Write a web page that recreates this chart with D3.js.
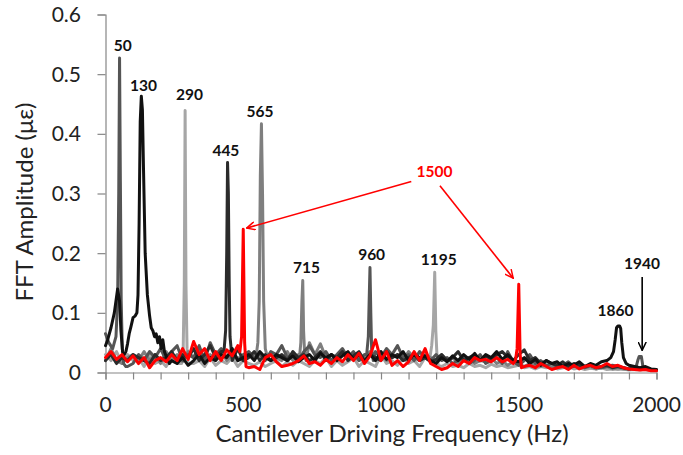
<!DOCTYPE html>
<html><head><meta charset="utf-8">
<script src="https://cdn.jsdelivr.net/npm/d3@7"></script>
<style>
html,body{margin:0;padding:0;background:#fff;}
text{font-family:"Lato","Liberation Sans",sans-serif;}
</style></head>
<body><svg id="c" width="683" height="455"></svg>
<script>
// ---------- DATA ----------
const xTicks = [0, 500, 1000, 1500, 2000];
const yTicks = [0, 0.1, 0.2, 0.3, 0.4, 0.5, 0.6];
const noiseHz = d3.range(0, 2001, 20); // common 20 Hz sampling grid for baseline noise

// light gray trace (290 Hz / 1195 Hz)
const lightNoise = [0.03,0.02,0.035,0.015,0.03,0.02,0.025,0.01,0.03,0.015,0.02,0.01,0.025,0.015,0.02,0.02,0.015,0.02,0.01,0.025,0.012,0.02,0.015,0.025,0.01,0.02,0.015,0.012,0.018,0.01,0.015,0.02,0.01,0.018,0.012,0.02,0.015,0.01,0.02,0.015,0.025,0.01,0.02,0.012,0.018,0.025,0.01,0.02,0.015,0.01,0.03,0.015,0.02,0.012,0.025,0.015,0.02,0.01,0.025,0.03,0.03,0.01,0.015,0.01,0.012,0.008,0.015,0.01,0.012,0.008,0.014,0.01,0.012,0.008,0.01,0.012,0.008,0.01,0.006,0.01,0.008,0.01,0.006,0.008,0.01,0.006,0.008,0.005,0.007,0.006,0.008,0.005,0.006,0.005,0.006,0.004,0.005,0.004,0.005,0.004,0.004];
const lightPeakHz  = [[276,282,286,289,292,296,300],[1176,1184,1190,1195,1199,1203,1208]];
const lightPeakAmp = [[0.015,0.04,0.15,0.439,0.15,0.04,0.015],[0.02,0.045,0.08,0.168,0.07,0.03,0.012]];

// medium gray trace (565 Hz / 715 Hz)
const medNoise = [0.02,0.04,0.02,0.015,0.025,0.03,0.02,0.035,0.02,0.03,0.015,0.035,0.02,0.03,0.018,0.035,0.025,0.04,0.02,0.03,0.022,0.035,0.02,0.03,0.025,0.02,0.03,0.025,0.035,0.02,0.03,0.025,0.02,0.035,0.02,0.03,0.025,0.05,0.03,0.048,0.025,0.03,0.02,0.035,0.025,0.03,0.02,0.025,0.035,0.02,0.03,0.02,0.025,0.03,0.02,0.035,0.025,0.02,0.03,0.025,0.02,0.03,0.02,0.025,0.015,0.02,0.025,0.015,0.02,0.018,0.025,0.015,0.02,0.012,0.018,0.015,0.01,0.015,0.012,0.01,0.012,0.008,0.012,0.01,0.008,0.01,0.012,0.008,0.01,0.006,0.008,0.01,0.006,0.008,0.006,0.005,0.007,0.005,0.006,0.004,0.004];
const medPeakHz  = [[546,553,558,562,566,570,574,580,588],[703,709,713,716,719,723,728]];
const medPeakAmp = [[0.025,0.05,0.12,0.33,0.417,0.3,0.12,0.04,0.025],[0.02,0.05,0.12,0.154,0.07,0.03,0.02]];

// dark gray trace (50 Hz / 960 Hz / 1940 Hz)
const darkNoise = [0.065,0.045,0.04,0.02,0.01,0.015,0.03,0.02,0.035,0.025,0.04,0.02,0.035,0.045,0.02,0.03,0.025,0.045,0.02,0.05,0.03,0.04,0.025,0.035,0.02,0.03,0.035,0.025,0.03,0.02,0.035,0.03,0.045,0.025,0.03,0.02,0.035,0.045,0.03,0.025,0.035,0.02,0.03,0.04,0.025,0.035,0.02,0.03,0.03,0.035,0.025,0.04,0.03,0.045,0.025,0.03,0.02,0.035,0.025,0.02,0.03,0.02,0.025,0.015,0.02,0.025,0.015,0.02,0.03,0.015,0.02,0.025,0.015,0.035,0.018,0.012,0.02,0.03,0.015,0.02,0.012,0.015,0.01,0.012,0.018,0.01,0.015,0.008,0.012,0.01,0.008,0.01,0.012,0.01,0.008,0.006,0.008,0.008,0.005,0.004,0.004];
const darkPeakHz  = [[0,12,26,38,44,48,51,54,57,61,66,74],[948,954,957,960,963,966,972],[1924,1932,1937,1945,1950,1956]];
const darkPeakAmp = [[0.065,0.05,0.04,0.06,0.12,0.3,0.527,0.32,0.12,0.04,0.015,0.01],[0.03,0.06,0.12,0.176,0.1,0.04,0.02],[0.006,0.02,0.027,0.027,0.012,0.005]];

// near-black trace (445 Hz)
const nearBlackNoise = [0.02,0.03,0.015,0.025,0.02,0.03,0.025,0.02,0.015,0.03,0.02,0.025,0.035,0.02,0.03,0.025,0.04,0.02,0.03,0.045,0.025,0.035,0.03,0.02,0.04,0.02,0.025,0.035,0.02,0.03,0.02,0.025,0.03,0.02,0.035,0.025,0.03,0.02,0.025,0.035,0.02,0.03,0.025,0.035,0.02,0.028,0.035,0.02,0.03,0.025,0.02,0.035,0.025,0.03,0.02,0.025,0.03,0.02,0.025,0.018,0.022,0.03,0.02,0.025,0.035,0.02,0.025,0.03,0.02,0.028,0.022,0.03,0.035,0.025,0.02,0.03,0.038,0.02,0.025,0.015,0.02,0.015,0.012,0.018,0.01,0.015,0.012,0.01,0.012,0.008,0.01,0.012,0.008,0.01,0.008,0.006,0.008,0.006,0.005,0.005,0.004];
const nearBlackPeakHz  = [[430,436,440,443,446,449,452,458]];
const nearBlackPeakAmp = [[0.035,0.07,0.2,0.352,0.3,0.15,0.06,0.03]];

// black trace (130 Hz / 1860 Hz)
const blackNoise = [0.05,0.07,0.1,0.05,0.05,0.09,0.1,0.13,0.15,0.07,0.06,0.04,0.02,0.015,0.025,0.012,0.02,0.03,0.015,0.025,0.02,0.03,0.025,0.04,0.02,0.025,0.03,0.02,0.035,0.025,0.02,0.03,0.025,0.02,0.028,0.018,0.025,0.03,0.02,0.032,0.025,0.03,0.02,0.028,0.035,0.022,0.03,0.018,0.03,0.02,0.035,0.022,0.03,0.025,0.035,0.02,0.03,0.025,0.028,0.02,0.015,0.025,0.018,0.028,0.02,0.03,0.022,0.032,0.02,0.03,0.025,0.035,0.022,0.03,0.02,0.018,0.025,0.015,0.022,0.012,0.02,0.015,0.018,0.01,0.015,0.012,0.018,0.01,0.015,0.012,0.018,0.02,0.025,0.03,0.03,0.012,0.01,0.008,0.01,0.006,0.005];
const blackPeakHz  = [[0,8,20,32,44,51,56,62,68,74,80,86,92,100,108,114,118,122,126,130,134,138,144,152,160,166,172,178,184,190,196,202,208,214,222,232],[1834,1844,1850,1855,1860,1866,1870,1874,1880,1890]];
const blackPeakAmp = [[0.045,0.055,0.075,0.1,0.14,0.12,0.07,0.035,0.03,0.035,0.048,0.065,0.076,0.092,0.095,0.1,0.13,0.25,0.42,0.463,0.44,0.34,0.2,0.13,0.095,0.075,0.07,0.06,0.065,0.05,0.06,0.04,0.055,0.035,0.025,0.015],[0.025,0.035,0.055,0.075,0.078,0.078,0.074,0.05,0.025,0.015]];

// red trace (500 Hz / 1500 Hz)
const redNoise = [0.025,0.035,0.022,0.03,0.018,0.028,0.015,0.025,0.008,0.02,0.025,0.018,0.03,0.02,0.04,0.022,0.052,0.03,0.04,0.02,0.035,0.02,0.038,0.028,0.045,0.03,0.008,0.01,0.005,0.025,0.03,0.018,0.01,0.012,0.015,0.02,0.028,0.015,0.018,0.012,0.022,0.015,0.025,0.018,0.03,0.02,0.032,0.015,0.028,0.055,0.02,0.035,0.012,0.02,0.01,0.018,0.035,0.02,0.04,0.015,0.01,0.005,0.008,0.015,0.01,0.02,0.015,0.025,0.02,0.022,0.018,0.025,0.018,0.022,0.015,0.02,0.01,0.012,0.008,0.015,0.01,0.005,0.008,0.01,0.005,0.012,0.006,0.01,0.012,0.008,0.01,0.015,0.01,0.012,0.008,0.006,0.005,0.004,0.005,0.003,0.003];
const redPeakHz  = [[488,494,500,505,510],[1488,1494,1500,1505,1510]];
const redPeakAmp = [[0.035,0.06,0.24,0.05,0.01],[0.02,0.04,0.148,0.03,0.008]];

const traceNames  = ["light", "medium", "dark", "nearBlack", "black", "red"];
const traceColors = ["#a6a6a6", "#7f7f7f", "#555555", "#2b2b2b", "#111111", "#ff0000"];

// peak annotations: [text, hz, amp (baseline)]
const peakLabels = [
  ["50", 63, 0.539], ["130", 138, 0.471], ["290", 305, 0.456], ["445", 437, 0.363],
  ["565", 561, 0.429], ["715", 730, 0.167], ["960", 966, 0.188], ["1195", 1210, 0.180],
  ["1500", 1194, 0.327], ["1860", 1851, 0.095], ["1940", 1947, 0.174]
];
// arrows: [fromHz, fromAmp, toHz, toAmp]
const redArrows = [[1110, 0.320, 512, 0.242], [1214, 0.313, 1480, 0.158]];
const blackArrows = [[1948, 0.160, 1948, 0.037]];

// ---------- BUILD ----------
function buildTrace(noise, peakHz, peakAmp) {
  let pts = [];
  const ranges = peakHz.map(h => [d3.min(h), d3.max(h)]);
  noiseHz.forEach((h, i) => {
    if (!ranges.some(r => h >= r[0] && h <= r[1])) pts.push([h, noise[i]]);
  });
  peakHz.forEach((hs, g) => hs.forEach((h, j) => pts.push([h, peakAmp[g][j]])));
  pts.sort((a, b) => a[0] - b[0]);
  return pts;
}
const traces = [
  buildTrace(lightNoise, lightPeakHz, lightPeakAmp),
  buildTrace(medNoise, medPeakHz, medPeakAmp),
  buildTrace(darkNoise, darkPeakHz, darkPeakAmp),
  buildTrace(nearBlackNoise, nearBlackPeakHz, nearBlackPeakAmp),
  buildTrace(blackNoise, blackPeakHz, blackPeakAmp),
  buildTrace(redNoise, redPeakHz, redPeakAmp)
];

const svg = d3.select("#c");
const x = d3.scaleLinear().domain([0, 2000]).range([105.5, 656.5]);
const y = d3.scaleLinear().domain([0, 0.6]).range([372.5, 14.5]);

const defs = svg.append("defs");
[["arrRed", "#ff0000"], ["arrBlack", "#000"]].forEach(([id, c]) => {
  defs.append("marker").attr("id", id).attr("viewBox", "0 0 10 10")
    .attr("refX", 9.5).attr("refY", 5).attr("markerWidth", 9).attr("markerHeight", 9)
    .attr("markerUnits", "userSpaceOnUse").attr("orient", "auto")
    .append("path").attr("d", "M0,0.5 L9.5,5 L0,9.5").attr("fill", "none")
    .attr("stroke", c).attr("stroke-width", 1.6);
});

// axes
const gx = svg.append("g").attr("transform", `translate(0,${y(0)})`)
  .call(d3.axisBottom(x).tickValues(d3.range(0, 2001, 100)).tickSize(7).tickFormat(""));
const gy = svg.append("g").attr("transform", `translate(${x(0)},0)`)
  .call(d3.axisLeft(y).tickValues(yTicks).tickSize(8).tickFormat(""));
[gx, gy].forEach(g => {
  g.select(".domain").attr("stroke", "#868686").attr("stroke-width", 1.2);
  g.selectAll(".tick line").attr("stroke", "#868686").attr("stroke-width", 1.2);
});

svg.append("g").selectAll("text").data(xTicks).join("text")
  .attr("x", d => x(d)).attr("y", 412).attr("text-anchor", "middle")
  .attr("font-size", 21).attr("fill", "#222").text(d => d);
svg.append("g").selectAll("text").data(yTicks).join("text")
  .attr("x", 81).attr("y", d => y(d) + 7.5).attr("text-anchor", "end")
  .attr("font-size", 21).attr("fill", "#222").text(d => d === 0 ? "0" : d.toFixed(1));

svg.append("text").attr("x", 392).attr("y", 442).attr("text-anchor", "middle")
  .attr("font-size", 24).attr("fill", "#222").text("Cantilever Driving Frequency (Hz)");
svg.append("text").attr("transform", "translate(33,202) rotate(-90)").attr("text-anchor", "middle")
  .attr("font-size", 24).attr("fill", "#222").text("FFT Amplitude (με)");

// traces
const line = d3.line().x(d => x(d[0])).y(d => y(d[1]));
svg.append("g").selectAll("path").data(traces).join("path")
  .attr("d", line).attr("fill", "none")
  .attr("stroke", (d, i) => traceColors[i]).attr("stroke-width", 3)
  .attr("stroke-linejoin", "round").attr("stroke-linecap", "round");

// arrows
svg.append("g").selectAll("line").data(redArrows).join("line")
  .attr("x1", d => x(d[0])).attr("y1", d => y(d[1])).attr("x2", d => x(d[2])).attr("y2", d => y(d[3]))
  .attr("stroke", "#ff0000").attr("stroke-width", 1.6).attr("marker-end", "url(#arrRed)");
svg.append("g").selectAll("line").data(blackArrows).join("line")
  .attr("x1", d => x(d[0])).attr("y1", d => y(d[1])).attr("x2", d => x(d[2])).attr("y2", d => y(d[3]))
  .attr("stroke", "#000").attr("stroke-width", 1.6).attr("marker-end", "url(#arrBlack)");

// labels
svg.append("g").selectAll("text").data(peakLabels).join("text")
  .attr("x", d => x(d[1])).attr("y", d => y(d[2])).attr("text-anchor", "middle")
  .attr("font-size", 15.5).attr("font-weight", "bold")
  .attr("fill", d => d[0] === "1500" ? "#ff0000" : "#111").text(d => d[0]);
</script></body></html>
